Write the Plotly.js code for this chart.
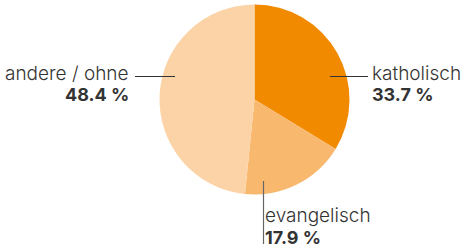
<!DOCTYPE html>
<html>
<head>
<meta charset="utf-8">
<script src="https://cdn.plot.ly/plotly-3.0.1.min.js"></script>
<style>html,body{margin:0;padding:0;background:#fff}#chart{width:462px;height:248px}</style>
</head>
<body>
<div id="chart"></div>
<script>
const categories = ["katholisch", "evangelisch", "andere / ohne"];
const values = [33.7, 17.9, 48.4];
const colors = ["#f28a00", "#f8b96f", "#fbd3a6"];

const W = 462, H = 248;
const fx = px => px / W;
const fy = py => 1 - py / H;
const fmt = v => v.toFixed(1) + " %";
const textColor = "#333333";
const FONT = "Inter, 'Noto Sans', sans-serif";

const trace = {
  type: "pie",
  values: values,
  labels: categories,
  marker: {colors: colors, line: {width: 0}},
  sort: false,
  direction: "clockwise",
  rotation: 0,
  textinfo: "none",
  hoverinfo: "none",
  showlegend: false,
  domain: {x: [fx(159.5), fx(349.5)], y: [fy(194.5), fy(4.5)]}
};

function label(x, y1, y2, cat, val, anchor) {
  return [
    {xref: "paper", yref: "paper", x: fx(x), y: fy(y1), text: cat, showarrow: false,
     xanchor: anchor, yanchor: "middle", font: {family: FONT, size: 19, weight: 300, color: textColor}},
    {xref: "paper", yref: "paper", x: fx(x), y: fy(y2), text: "<b>" + fmt(val) + "</b>", showarrow: false,
     xanchor: anchor, yanchor: "middle", font: {family: FONT, size: 18, color: textColor}}
  ];
}

const annotations = [].concat(
  label(370, 73, 94, categories[0], values[0], "left"),
  label(263, 215, 237, categories[1], values[1], "left"),
  label(131, 73, 94, categories[2], values[2], "right")
);

const shapes = [
  {type: "line", xref: "paper", yref: "paper", x0: fx(330), x1: fx(368), y0: fy(76.5), y1: fy(76.5), line: {color: "#333", width: 1.2}},
  {type: "line", xref: "paper", yref: "paper", x0: fx(135), x1: fx(175), y0: fy(76.5), y1: fy(76.5), line: {color: "#333", width: 1.2}},
  {type: "line", xref: "paper", yref: "paper", x0: fx(263.5), x1: fx(263.5), y0: fy(181), y1: fy(244), line: {color: "#666", width: 1.2}}
];

Plotly.newPlot("chart", [trace], {
  width: W, height: H,
  margin: {l: 0, r: 0, t: 0, b: 0},
  paper_bgcolor: "#fff",
  annotations: annotations,
  shapes: shapes
}, {staticPlot: true});
</script>
</body>
</html>
